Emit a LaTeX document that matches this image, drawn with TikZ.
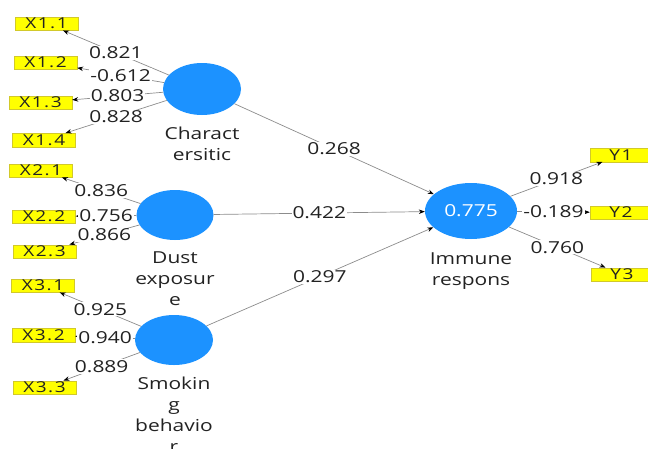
\documentclass[tikz,border=0pt]{standalone}
\usepackage{fontspec}
\setmainfont{Open Sans}[FakeStretch=1.27]
\newfontfamily\boxfont{Open Sans}[FakeStretch=1.27, LetterSpace=10]
\usetikzlibrary{shapes.geometric,arrows.meta}

\definecolor{cblue}{RGB}{28,146,255}
\definecolor{linegray}{RGB}{140,140,140}
\definecolor{textc}{RGB}{34,34,34}
\definecolor{boxyellow}{RGB}{255,255,0}

\tikzset{
  construct/.style={ellipse, fill=cblue, minimum width=78pt, minimum height=52pt, inner sep=0pt},
  indicator/.style={rectangle, fill=boxyellow, draw=yellow!80!black, line width=0.4pt,
    minimum width=63pt, minimum height=13.5pt, inner sep=0pt, text=textc,
    font=\boxfont\fontsize{15}{15}\selectfont},
  conn/.style={draw=linegray, line width=0.7pt,
    -{Stealth[length=6pt,width=4.5pt,color=black]}},
  coef/.style={fill=white, inner sep=1pt, text=textc,
    font=\fontsize{16.5}{20}\selectfont},
  caption/.style={align=center, anchor=north, inner sep=0pt, text=textc,
    font=\fontsize{16.5}{21}\selectfont},
}

\begin{document}
\begin{tikzpicture}[x=1pt,y=-1pt]
\useasboundingbox (0,0) rectangle (648,448);

% latent constructs
\node[construct] (C) at (202,89) {};
\node[construct, minimum width=77pt, minimum height=50pt] (D) at (175,215) {};
\node[construct, minimum width=78pt, minimum height=50pt] (S) at (174,340) {};
\node[construct, minimum width=92pt, minimum height=56pt, text=white,
      font=\fontsize{16.5}{20}\selectfont] (I) at (471,211) {0.775};

% construct captions
\node[caption] (Ccap) at (202,126.3) {Charact\\ersitic};
\node[caption] (Dcap) at (175,251.3) {Dust\\exposur\\e};
\node[caption] (Scap) at (174,376.3) {Smokin\\g\\behavio\\r};
\node[caption] (Icap) at (471,252.3) {Immune\\respons};

% indicators
\node[indicator] (X11) at (46.5,23.5) {X1.1};
\node[indicator] (X12) at (45.5,62.5) {X1.2};
\node[indicator] (X13) at (40.5,102.5) {X1.3};
\node[indicator] (X14) at (44,140) {X1.4};
\node[indicator] (X21) at (41,170.5) {X2.1};
\node[indicator] (X22) at (44,216.5) {X2.2};
\node[indicator] (X23) at (44.5,251.5) {X2.3};
\node[indicator] (X31) at (43,285.5) {X3.1};
\node[indicator] (X32) at (43.5,335) {X3.2};
\node[indicator] (X33) at (44.5,387.5) {X3.3};
\node[indicator, minimum width=62pt] (Y1) at (621,155) {Y1};
\node[indicator, minimum width=62pt] (Y2) at (621,212.5) {Y2};
\node[indicator, minimum width=62pt] (Y3) at (622,274.5) {Y3};

% outer loadings
\draw[conn] (C) -- node[coef] {0.821} (X11);
\draw[conn] (C) -- node[coef] {-0.612} (X12);
\draw[conn] (C) -- node[coef] {0.803} (X13);
\draw[conn] (C) -- node[coef] {0.828} (X14);
\draw[conn] (D) -- node[coef] {0.836} (X21);
\draw[conn] (D) -- node[coef] {0.756} (X22);
\draw[conn] (D) -- node[coef] {0.866} (X23);
\draw[conn] (S) -- node[coef] {0.925} (X31);
\draw[conn] (S) -- node[coef] {0.940} (X32);
\draw[conn] (S) -- node[coef] {0.889} (X33);
\draw[conn] (I) -- node[coef] {0.918} (Y1);
\draw[conn] (I) -- node[coef] {-0.189} (Y2);
\draw[conn] (I) -- node[coef] {0.760} (Y3);

% path coefficients
\draw[conn] (C) -- node[coef] {0.268} (I);
\draw[conn] (D) -- node[coef] {0.422} (I);
\draw[conn] (S) -- node[coef] {0.297} (I);
\end{tikzpicture}
\end{document}
